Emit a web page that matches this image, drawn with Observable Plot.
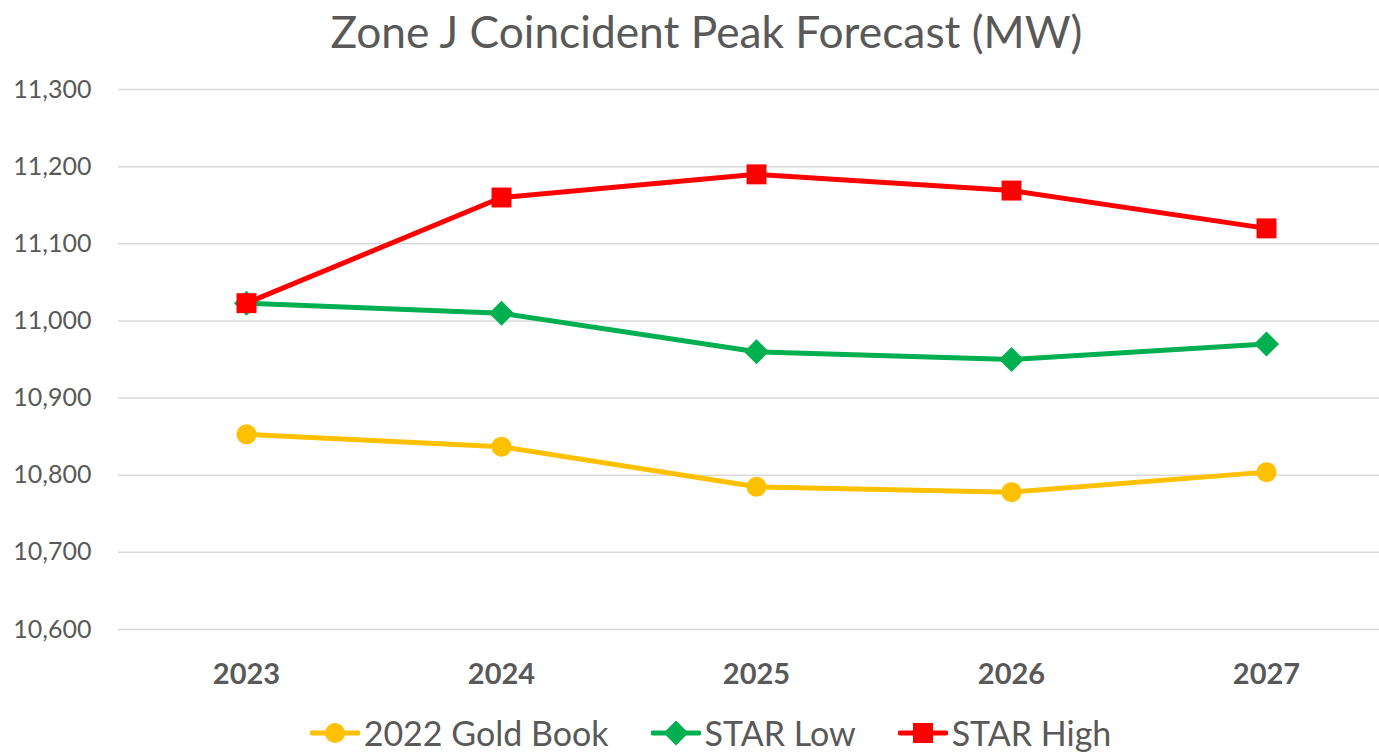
<!DOCTYPE html>
<html>
<head>
<meta charset="utf-8">
<script src="https://cdn.jsdelivr.net/npm/d3@7"></script>
<script src="https://cdn.jsdelivr.net/npm/@observablehq/plot@0.6"></script>
<style>
  html, body { margin: 0; padding: 0; background: #fff; }
  body { width: 1379px; height: 755px; overflow: hidden; font-family: Lato, "Open Sans", sans-serif; color: #595959; }
  #title { height: 70px; line-height: 62px; text-align: center; font-size: 44.3px; color: #595959; white-space: nowrap; padding-left: 34px; }
  #chart svg { display: block; }
  #legend { display: flex; justify-content: center; align-items: center; height: 45px; gap: 42px; font-size: 34px; color: #595959; padding-left: 42px; }
  .item { display: flex; align-items: center; gap: 4px; }
</style>
</head>
<body>
<div id="title">Zone J Coincident Peak Forecast (MW)</div>
<div id="chart"></div>
<div id="legend"></div>
<script>
const years = [2023, 2024, 2025, 2026, 2027];
const seriesNames = ["2022 Gold Book", "STAR Low", "STAR High"];
const goldBook = [10853, 10837, 10785, 10778, 10804];
const starLow = [11023, 11010, 10960, 10950, 10970];
const starHigh = [11023, 11160, 11190, 11169, 11120];
const yTicks = [10600, 10700, 10800, 10900, 11000, 11100, 11200, 11300];
const colors = ["#FFC000", "#00B050", "#FF0000"];
const symbols = ["circle", "diamond2", "square2"];
const symbolR = [10, 11.3, 12.7];

const valuesBySeries = [goldBook, starLow, starHigh];
const rows = seriesNames.map((name, i) => years.map((yr, j) => ({series: name, year: yr, value: valuesBySeries[i][j]})));

const marks = [
  Plot.ruleY(yTicks, {stroke: "#d9d9d9", strokeWidth: 1.5}),
  Plot.axisY({ticks: yTicks, tickFormat: d3.format(","), tickSize: 0, tickPadding: 27, fontSize: 25, fill: "#595959", label: null}),
  Plot.axisX({tickSize: 0, tickPadding: 34, fontSize: 29, fontWeight: "bold", fill: "#595959", tickFormat: d => String(d), label: null})
];
rows.forEach((data, i) => {
  marks.push(Plot.line(data, {x: "year", y: "value", stroke: colors[i], strokeWidth: 5, strokeLinejoin: "round", strokeLinecap: "round"}));
  marks.push(Plot.dot(data, {x: "year", y: "value", symbol: () => symbols[i], r: symbolR[i], fill: colors[i], stroke: "none"}));
});

const chart = Plot.plot({
  width: 1379,
  height: 640,
  marginTop: 19,
  marginBottom: 81,
  marginLeft: 118,
  marginRight: 0,
  style: {fontFamily: "Lato, 'Open Sans', sans-serif", color: "#595959", background: "#fff", overflow: "visible"},
  x: {type: "point", domain: years, range: [245, 1266], padding: 0},
  y: {domain: [10600, 11300]},
  symbol: {type: "identity"},
  marks
});
document.getElementById("chart").appendChild(chart);

const legend = document.getElementById("legend");
const shapes = [
  '<circle cx="25" cy="15" r="10"/>',
  '<path d="M25,2.5L37.5,15L25,27.5L12.5,15Z"/>',
  '<rect x="15" y="5" width="20" height="20"/>'
];
seriesNames.forEach((name, i) => {
  const item = document.createElement("div");
  item.className = "item";
  item.innerHTML = `<svg width="50" height="30"><line x1="2" y1="15" x2="48" y2="15" stroke="${colors[i]}" stroke-width="5" stroke-linecap="round"/><g fill="${colors[i]}">${shapes[i]}</g></svg><span>${name}</span>`;
  legend.appendChild(item);
});
</script>
</body>
</html>
